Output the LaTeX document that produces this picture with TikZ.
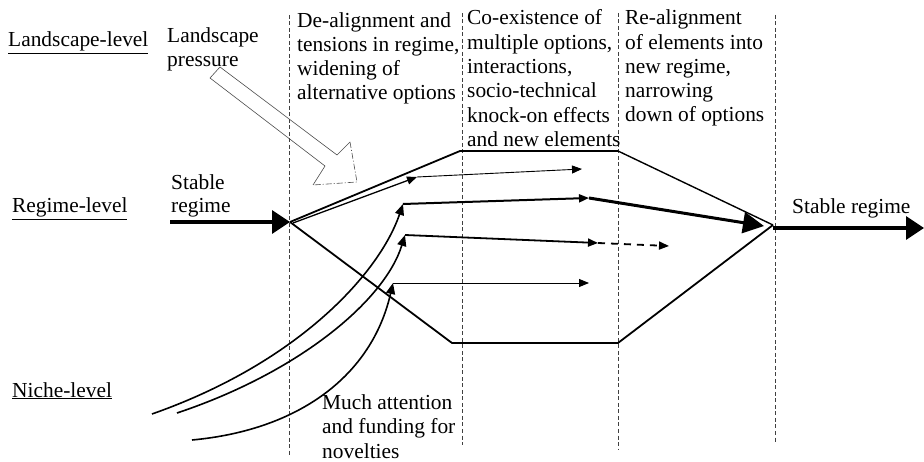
\documentclass[tikz,border=0pt]{standalone}
\usepackage{fontspec}
\setmainfont{Liberation Serif}
\usetikzlibrary{arrows.meta}
\begin{document}
\begin{tikzpicture}[x=1pt,y=-1pt,
  txt/.style={anchor=base west, inner sep=0pt, align=left, font=\fontsize{21.4}{24.3}\selectfont},
  sep/.style={dashed, dash pattern=on 4pt off 2.5pt, line width=0.7pt, black!75},
  hexa/.style={line width=1.8pt, line join=miter},
  bigtip/.style={-{Triangle[length=18pt,width=23pt]}},
  smalltip/.style={-{Triangle[length=10pt,width=8pt]}},
  land/.style={line width=0.6pt, black!70},
  curv/.style={line width=1.6pt, -{Triangle[length=11pt,width=9pt]}}
]
\useasboundingbox (0,0) rectangle (924,462);
% separators
\coordinate (s1t) at (289,15);  \coordinate (s1b) at (289,455);
\coordinate (s2t) at (462,13);  \coordinate (s2b) at (462,445);
\coordinate (s3t) at (618,13);  \coordinate (s3b) at (618,449);
\coordinate (s4t) at (775,15);  \coordinate (s4b) at (775,442);
\draw[sep] (s1t) -- (s1b);
\draw[sep] (s2t) -- (s2b);
\draw[sep] (s3t) -- (s3b);
\draw[sep] (s4t) -- (s4b);
% texts (anchor = baseline of the last line)
\node[txt] (ll) at (8,47) {\underline{Landscape-level}};
\node[txt] (rl) at (12,213) {\underline{Regime-level}};
\node[txt] (nl) at (12,397) {\underline{Niche-level}};
\node[txt] (lp) at (167,67) {Landscape\\pressure};
\node[txt] (t1) at (297,100) {De-alignment and\\tensions in regime,\\widening of\\alternative options};
\node[txt] (t2) at (467,146.5) {Co-existence of\\multiple options,\\interactions,\\socio-technical\\knock-on effects\\and new elements};
\node[txt] (t3) at (625,122) {Re-alignment\\of elements into\\new regime,\\narrowing\\down of options};
\node[txt, font=\fontsize{21.4}{23.5}\selectfont] (sl) at (171,213) {Stable\\regime};
\node[txt] (sr) at (792,214) {Stable regime};
\node[txt] (ma) at (322,458) {Much attention\\and funding for\\novelties};
% hexagon
\coordinate (L) at (290,222);
\coordinate (TL) at (460,151);
\coordinate (TR) at (618,151);
\coordinate (R) at (773,225);
\coordinate (BR) at (618,343);
\coordinate (BL) at (452,343);
\draw[hexa] (L) -- (TL) -- (TR);
\draw[line width=1.4pt] (TR) -- (R);
\draw[hexa] (L) -- (BL) -- (BR) -- (R);
% stable regime arrows
\coordinate (sa0) at (170,222);
\draw[line width=3.5pt, bigtip] (sa0) -- (L);
\coordinate (sb0) at (773,228);
\coordinate (sb1) at (924,228);
\draw[line width=3.5pt, bigtip] (sb0) -- (sb1);
% landscape pressure hollow arrow
\coordinate (p1) at (220,67);
\coordinate (p2) at (337,155);
\coordinate (p3) at (350,142);
\coordinate (p4) at (357,182);
\coordinate (p5) at (313,185);
\coordinate (p6) at (325,166);
\coordinate (p7) at (210,78);
\draw[land] (p3) -- (p2) -- (p1) -- (p7) -- (p6) -- (p5);
\draw[land, dash pattern=on 6pt off 2pt on 1pt off 2pt] (p3) -- (p4) -- (p5);
% paths
\coordinate (a0) at (293,223);
\coordinate (a1) at (417,177);
\coordinate (a2) at (582,169);
\draw[line width=1.3pt, smalltip] (a0) -- (a1);
\draw[line width=0.9pt, smalltip] (a1) -- (a2);
\coordinate (b0) at (403,204);
\coordinate (b1) at (589,198);
\coordinate (b2) at (764,226);
\draw[line width=2pt, smalltip] (b0) -- (b1);
\draw[line width=3pt, -{Triangle[length=21pt,width=21pt]}] (b1) -- (b2);
\coordinate (c0) at (405,235);
\coordinate (c1) at (598,243);
\coordinate (c2) at (669,246);
\draw[line width=1.8pt, smalltip] (c0) -- (c1);
\draw[line width=1.8pt, dashed, dash pattern=on 7pt off 6pt, smalltip] (c1) -- (c2);
\coordinate (d0) at (393,283);
\coordinate (d1) at (589,283);
\draw[line width=0.9pt, smalltip] (d0) -- (d1);
% niche curves
\coordinate (n1) at (152,414);
\coordinate (n2) at (177,413);
\coordinate (n3) at (192,440);
\draw[curv] (n1) .. controls (300,362) and (380,272) .. (b0);
\draw[curv] (n2) .. controls (300,372) and (385,300) .. (c0);
\draw[curv] (n3) .. controls (300,430) and (372,375) .. (d0);
\end{tikzpicture}
\end{document}
